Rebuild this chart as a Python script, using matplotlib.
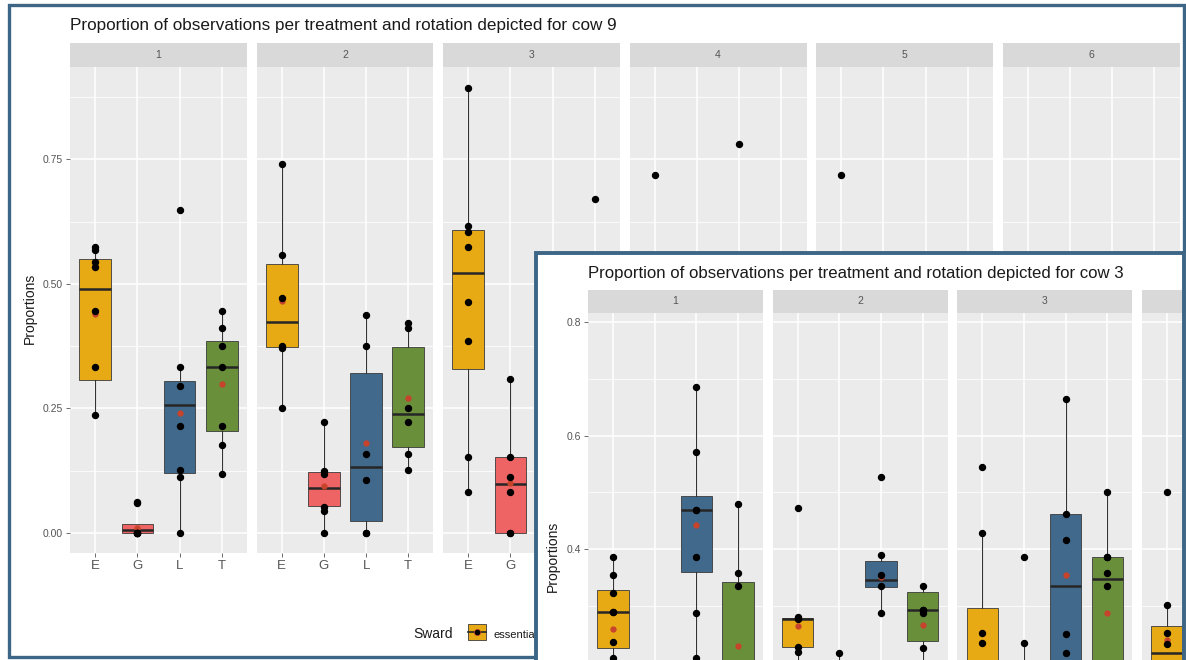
import matplotlib
matplotlib.use("Agg")
import matplotlib.pyplot as plt
from matplotlib.patches import Rectangle

W, H = 1186, 660
plt.rcParams['font.family'] = ['Liberation Sans', 'DejaVu Sans']

categories = ['E', 'G', 'L', 'T']
sward_colors = ['#E8AA14', '#EE6464', '#41698C', '#6A8F3B']
frame_color = '#3D6586'

# cow 9 (back screenshot), one row per rotation, one value per sward E, G, L, T
c9_rotations = ['1', '2', '3', '4', '5', '6']
c9_low = [[0.237, 0.000, 0.000, 0.119], [0.251, 0.000, 0.000, 0.127],
          [0.082, 0.000, None, None], [None] * 4, [None] * 4, [None] * 4]
c9_q1 = [[0.308, 0.000, 0.121, 0.205], [0.374, 0.054, 0.024, 0.173],
         [0.330, 0.000, None, None], [None] * 4, [None] * 4, [None] * 4]
c9_med = [[0.490, 0.006, 0.257, 0.334], [0.424, 0.090, 0.133, 0.239],
          [0.521, 0.098, None, None], [None] * 4, [None] * 4, [None] * 4]
c9_q3 = [[0.550, 0.018, 0.306, 0.386], [0.539, 0.123, 0.322, 0.374],
         [0.607, 0.153, None, None], [None] * 4, [None] * 4, [None] * 4]
c9_high = [[0.573, 0.018, 0.334, 0.446], [0.741, 0.223, 0.438, 0.422],
           [0.892, 0.310, None, None], [None] * 4, [None] * 4, [None] * 4]
c9_mean = [[0.440, 0.010, 0.240, 0.300], [0.465, 0.095, 0.180, 0.270],
           [0.464, 0.100, None, None], [None] * 4, [None] * 4, [None] * 4]
c9_points = [
    [[0.573, 0.567, 0.543, 0.533, 0.446, 0.334, 0.237],
     [0.063, 0.060, 0.0, 0.0, 0.0, 0.0, 0.0],
     [0.649, 0.334, 0.296, 0.215, 0.127, 0.113, 0.0],
     [0.446, 0.412, 0.376, 0.334, 0.215, 0.177, 0.119]],
    [[0.741, 0.557, 0.472, 0.376, 0.372, 0.251],
     [0.223, 0.125, 0.119, 0.052, 0.045, 0.0],
     [0.438, 0.376, 0.159, 0.107, 0.0, 0.0],
     [0.422, 0.412, 0.251, 0.223, 0.159, 0.127]],
    [[0.892, 0.617, 0.603, 0.573, 0.464, 0.386, 0.153, 0.082],
     [0.310, 0.153, 0.113, 0.082, 0.0, 0.0],
     [], [0.671]],
    [[0.718], [], [0.780], []],
    [[0.718], [], [], []],
    [[], [], [], []],
]

# cow 3 (front screenshot), rotations 1..4 (the rest is cut off)
c3_rotations = ['1', '2', '3', '']  # strip 4 label lies outside the crop
c3_low = [[0.150, None, 0.100, 0.100], [0.150, 0.000, 0.287, 0.150],
          [0.000, 0.000, 0.100, 0.100], [0.100, None, None, None]]
c3_q1 = [[0.226, None, 0.360, 0.150], [0.227, 0.030, 0.333, 0.238],
         [0.100, 0.050, 0.180, 0.180], [0.150, None, None, None]]
c3_med = [[0.289, None, 0.469, 0.190], [0.277, 0.080, 0.345, 0.292],
          [0.150, 0.100, 0.335, 0.347], [0.217, None, None, None]]
c3_q3 = [[0.328, None, 0.493, 0.342], [0.278, 0.150, 0.379, 0.324],
         [0.296, 0.150, 0.462, 0.386], [0.264, None, None, None]]
c3_high = [[0.386, None, 0.686, 0.479], [0.280, 0.217, 0.390, 0.335],
           [0.428, 0.234, 0.664, 0.500], [0.301, None, None, None]]
c3_mean = [[0.259, None, 0.442, 0.229], [0.265, 0.100, 0.350, 0.266],
           [0.234, 0.120, 0.354, 0.287], [0.240, None, None, None]]
c3_points = [
    [[0.386, 0.354, 0.322, 0.289, 0.289, 0.236, 0.208], [],
     [0.686, 0.571, 0.469, 0.469, 0.386, 0.287, 0.208],
     [0.479, 0.358, 0.335]],
    [[0.472, 0.280, 0.278, 0.277, 0.227, 0.218], [0.217],
     [0.527, 0.390, 0.354, 0.335, 0.287],
     [0.335, 0.292, 0.292, 0.287, 0.225]],
    [[0.544, 0.428, 0.252, 0.234], [0.386, 0.234],
     [0.664, 0.462, 0.416, 0.250, 0.217],
     [0.500, 0.386, 0.386, 0.358, 0.335]],
    [[0.500, 0.301, 0.252, 0.233], [], [], []],
]

fig = plt.figure(figsize=(W / 100, H / 100), dpi=100)


def px_axes(x0, y0, x1, y1, **kw):
    """Axes placed by pixel box (top-left origin)."""
    return fig.add_axes([x0 / W, 1 - y1 / H, (x1 - x0) / W, (y1 - y0) / H], **kw)


def draw_panel(ax, low, q1, med, q3, high, mean, pts):
    for i in range(4):
        if q1[i] is not None:
            stats = [dict(whislo=low[i], q1=q1[i], med=med[i], q3=q3[i], whishi=high[i])]
            ax.bxp(stats, positions=[i], widths=0.75, showfliers=False, showcaps=False,
                   patch_artist=True, manage_ticks=False,
                   boxprops=dict(facecolor=sward_colors[i], edgecolor='#3a3a3a', linewidth=0.6),
                   whiskerprops=dict(color='#333333', linewidth=0.8),
                   medianprops=dict(color='#262626', linewidth=1.8))
        if mean[i] is not None:
            ax.plot(i, mean[i], 'o', color='#C8432B', ms=3.5, zorder=3)
        if pts[i]:
            ax.plot([i] * len(pts[i]), pts[i], 'o', color='black', ms=4.3, lw=0, zorder=4)


def style_panel(ax, ylim, yticks, ylabels, yminor, xlabels, show_y, show_x, zorder):
    ax.set_zorder(zorder)
    ax.set_facecolor('#EBEBEB')
    for s in ax.spines.values():
        s.set_visible(False)
    ax.set_xlim(-0.6, 3.6)
    ax.set_ylim(*ylim)
    ax.set_xticks(range(4))
    ax.set_xticklabels(xlabels)
    ax.set_yticks(yticks)
    ax.set_yticks(yminor, minor=True)
    ax.set_yticklabels(ylabels if show_y else [])
    ax.grid(True, which='major', color='white', linewidth=1.1)
    ax.grid(True, which='minor', axis='y', color='white', linewidth=0.55)
    ax.set_axisbelow(True)
    ax.tick_params(which='major', length=3, width=0.6, color='#555555',
                   labelcolor='#555555', pad=2)
    ax.tick_params(axis='x', labelsize=9.5, bottom=show_x, labelbottom=show_x)
    ax.tick_params(axis='y', labelsize=7.5, left=show_y)
    ax.tick_params(which='minor', length=0)


def strip(x0, y0, x1, y1, label, zorder):
    s = px_axes(x0, y0, x1, y1)
    s.set_zorder(zorder)
    s.set_facecolor('#D9D9D9')
    s.set_xticks([])
    s.set_yticks([])
    for sp in s.spines.values():
        sp.set_visible(False)
    if label:
        s.text(0.5, 0.5, label, ha='center', va='center', fontsize=7.5, color='#555555',
               transform=s.transAxes)


# ---- back screenshot: cow 9 ----
fig.add_artist(Rectangle((9 / W, 1 - 657 / H), 1175 / W, 652 / H, transform=fig.transFigure,
                         fill=False, edgecolor=frame_color, linewidth=2.4, zorder=1))
fig.text(70 / W, 1 - 30 / H, 'Proportion of observations per treatment and rotation depicted for cow 9',
         fontsize=12.3, color='#1a1a1a', va='baseline', zorder=1)

c9_yticks = [0, 0.25, 0.5, 0.75]
for r in range(6):
    x0 = 70 + r * 186.5
    ax = px_axes(x0, 67, x0 + 177, 553)
    draw_panel(ax, c9_low[r], c9_q1[r], c9_med[r], c9_q3[r], c9_high[r], c9_mean[r], c9_points[r])
    # rotation 3's L and T labels sit under the front screenshot
    xlabels = ['E', 'G', '', ''] if r == 2 else categories
    style_panel(ax, (-0.040, 0.935), c9_yticks, ['%.2f' % v for v in c9_yticks],
                [0.125, 0.375, 0.625, 0.875], xlabels, r == 0, True, 1)
    strip(x0, 43, x0 + 177, 67, c9_rotations[r], 1)

fig.text(30 / W, 1 - 308 / H, 'Proportions', rotation=90, ha='center', va='center',
         fontsize=10, color='#1a1a1a', zorder=1)

# legend (mostly hidden by the front screenshot)
fig.text(413 / W, 1 - 638 / H, 'Sward', fontsize=10, color='#1a1a1a', va='baseline', zorder=1)
key = px_axes(466, 622, 488, 642)
key.set_zorder(1)
key.set_xlim(0, 1)
key.set_ylim(0, 1)
key.axis('off')
key.add_patch(Rectangle((0.1, 0.12), 0.8, 0.76, facecolor=sward_colors[0], edgecolor='#3a3a3a', lw=0.6))
key.plot([0.1, 0.9], [0.5, 0.5], color='#262626', lw=1.2)
key.plot(0.5, 0.5, 'o', color='#C8432B', ms=4)
key.plot(0.5, 0.5, 'o', color='black', ms=3)
fig.text(493 / W, 1 - 638 / H, 'essential', fontsize=8, color='#1a1a1a', va='baseline', zorder=1)

# ---- front screenshot: cow 3 ----
bg = px_axes(536, 253, 1186, 662)
bg.set_zorder(5)
bg.set_facecolor('white')
bg.set_xticks([])
bg.set_yticks([])
for sp in bg.spines.values():
    sp.set_visible(False)

fig.text(588 / W, 1 - 278 / H, 'Proportion of observations per treatment and rotation depicted for cow 3',
         fontsize=12.1, color='#1a1a1a', va='baseline', zorder=7)

c3_yticks = [0, 0.2, 0.4, 0.6, 0.8]
c3_ylabels = ['', '', '0.4', '0.6', '0.8']  # lower labels fall below the screenshot edge
for r in range(4):
    x0 = 588 + r * 184.6
    ax = px_axes(x0, 313, x0 + 175, 799)
    draw_panel(ax, c3_low[r], c3_q1[r], c3_med[r], c3_q3[r], c3_high[r], c3_mean[r], c3_points[r])
    style_panel(ax, (-0.0405, 0.816), c3_yticks, c3_ylabels, [0.1, 0.3, 0.5, 0.7],
                categories, r == 0, False, 6)
    strip(x0, 290, x0 + 175, 313, c3_rotations[r], 6)

fig.text(553 / W, 1 - 556 / H, 'Proportions', rotation=90, ha='center', va='center',
         fontsize=10, color='#1a1a1a', zorder=7)

fig.add_artist(Rectangle((536 / W, 1 - 664 / H), 648 / W, 411 / H, transform=fig.transFigure,
                         fill=False, edgecolor=frame_color, linewidth=2.8, zorder=8))

fig.savefig('out.png', dpi=100)
